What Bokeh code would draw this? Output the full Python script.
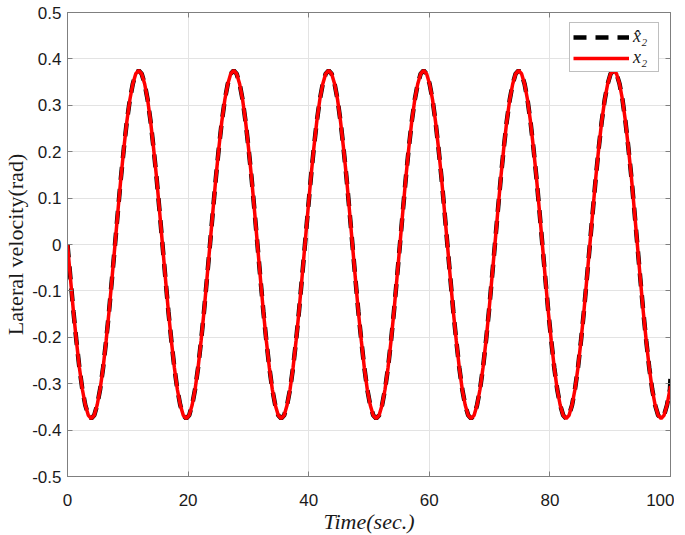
from bokeh.plotting import figure
from bokeh.models import LinearAxis, FixedTicker, Range1d
from bokeh.embed import file_html
from bokeh.resources import INLINE

# ---- data ----
# sample times (sec), shared by both series
t = [
    0, 0.49, 0.98, 1.48, 1.97, 2.46, 2.95, 3.45, 3.94, 4.43, 4.92, 5.41, 5.91, 6.40, 6.89, 7.38,
    7.88, 8.37, 8.86, 9.35, 9.84, 10.34, 10.83, 11.32, 11.81, 12.30, 12.80, 13.29, 13.78, 14.27, 14.77, 15.26,
    15.75, 16.24, 16.73, 17.23, 17.72, 18.21, 18.70, 19.20, 19.69, 20.18, 20.67, 21.16, 21.66, 22.15, 22.64, 23.13,
    23.63, 24.12, 24.61, 25.10, 25.59, 26.09, 26.58, 27.07, 27.56, 28.05, 28.55, 29.04, 29.53, 30.02, 30.52, 31.01,
    31.50, 31.99, 32.48, 32.98, 33.47, 33.96, 34.45, 34.95, 35.44, 35.93, 36.42, 36.91, 37.41, 37.90, 38.39, 38.88,
    39.38, 39.87, 40.36, 40.85, 41.34, 41.84, 42.33, 42.82, 43.31, 43.80, 44.30, 44.79, 45.28, 45.77, 46.27, 46.76,
    47.25, 47.74, 48.23, 48.73, 49.22, 49.71, 50.20, 50.70, 51.19, 51.68, 52.17, 52.66, 53.16, 53.65, 54.14, 54.63,
    55.13, 55.62, 56.11, 56.60, 57.09, 57.59, 58.08, 58.57, 59.06, 59.55, 60.05, 60.54, 61.03, 61.52, 62.02, 62.51,
    63.00, 63.49, 63.98, 64.48, 64.97, 65.46, 65.95, 66.45, 66.94, 67.43, 67.92, 68.41, 68.91, 69.40, 69.89, 70.38,
    70.88, 71.37, 71.86, 72.35, 72.84, 73.34, 73.83, 74.32, 74.81, 75.30, 75.80, 76.29, 76.78, 77.27, 77.77, 78.26,
    78.75, 79.24, 79.73, 80.23, 80.72, 81.21, 81.70, 82.20, 82.69, 83.18, 83.67, 84.16, 84.66, 85.15, 85.64, 86.13,
    86.63, 87.12, 87.61, 88.10, 88.59, 89.09, 89.58, 90.07, 90.56, 91.05, 91.55, 92.04, 92.53, 93.02, 93.52, 94.01,
    94.50, 94.99, 95.48, 95.98, 96.47, 96.96, 97.45, 97.95, 98.44, 98.93, 99.42, 99.91, 100.0,
]
# estimated state x2_hat (black dashed), rad
x2_hat = [
    0, -0.073, -0.144, -0.208, -0.265, -0.312, -0.346, -0.368, -0.375, -0.368, -0.346, -0.312, -0.265, -0.208, -0.144, -0.073,
    0, 0.073, 0.144, 0.208, 0.265, 0.312, 0.346, 0.368, 0.375, 0.368, 0.346, 0.312, 0.265, 0.208, 0.144, 0.073,
    0, -0.073, -0.144, -0.208, -0.265, -0.312, -0.346, -0.368, -0.375, -0.368, -0.346, -0.312, -0.265, -0.208, -0.144, -0.073,
    0, 0.073, 0.144, 0.208, 0.265, 0.312, 0.346, 0.368, 0.375, 0.368, 0.346, 0.312, 0.265, 0.208, 0.144, 0.073,
    0, -0.073, -0.144, -0.208, -0.265, -0.312, -0.346, -0.368, -0.375, -0.368, -0.346, -0.312, -0.265, -0.208, -0.144, -0.073,
    0, 0.073, 0.144, 0.208, 0.265, 0.312, 0.346, 0.368, 0.375, 0.368, 0.346, 0.312, 0.265, 0.208, 0.144, 0.073,
    0, -0.073, -0.144, -0.208, -0.265, -0.312, -0.346, -0.368, -0.375, -0.368, -0.346, -0.312, -0.265, -0.208, -0.144, -0.073,
    0, 0.073, 0.144, 0.208, 0.265, 0.312, 0.346, 0.368, 0.375, 0.368, 0.346, 0.312, 0.265, 0.208, 0.144, 0.073,
    0, -0.073, -0.144, -0.208, -0.265, -0.312, -0.346, -0.368, -0.375, -0.368, -0.346, -0.312, -0.265, -0.208, -0.144, -0.073,
    0, 0.073, 0.144, 0.208, 0.265, 0.312, 0.346, 0.368, 0.375, 0.368, 0.346, 0.312, 0.265, 0.208, 0.144, 0.073,
    0, -0.073, -0.144, -0.208, -0.265, -0.312, -0.346, -0.368, -0.375, -0.368, -0.346, -0.312, -0.265, -0.208, -0.144, -0.073,
    0, 0.073, 0.144, 0.208, 0.265, 0.312, 0.346, 0.368, 0.375, 0.368, 0.346, 0.312, 0.265, 0.208, 0.144, 0.073,
    0, -0.073, -0.144, -0.208, -0.265, -0.312, -0.346, -0.368, -0.375, -0.368, -0.346, -0.312, -0.287,
]
# true state x2 (red solid), rad
x2 = [
    0, -0.073, -0.144, -0.208, -0.265, -0.312, -0.346, -0.368, -0.375, -0.368, -0.346, -0.312, -0.265, -0.208, -0.144, -0.073,
    0, 0.073, 0.144, 0.208, 0.265, 0.312, 0.346, 0.368, 0.375, 0.368, 0.346, 0.312, 0.265, 0.208, 0.144, 0.073,
    0, -0.073, -0.144, -0.208, -0.265, -0.312, -0.346, -0.368, -0.375, -0.368, -0.346, -0.312, -0.265, -0.208, -0.144, -0.073,
    0, 0.073, 0.144, 0.208, 0.265, 0.312, 0.346, 0.368, 0.375, 0.368, 0.346, 0.312, 0.265, 0.208, 0.144, 0.073,
    0, -0.073, -0.144, -0.208, -0.265, -0.312, -0.346, -0.368, -0.375, -0.368, -0.346, -0.312, -0.265, -0.208, -0.144, -0.073,
    0, 0.073, 0.144, 0.208, 0.265, 0.312, 0.346, 0.368, 0.375, 0.368, 0.346, 0.312, 0.265, 0.208, 0.144, 0.073,
    0, -0.073, -0.144, -0.208, -0.265, -0.312, -0.346, -0.368, -0.375, -0.368, -0.346, -0.312, -0.265, -0.208, -0.144, -0.073,
    0, 0.073, 0.144, 0.208, 0.265, 0.312, 0.346, 0.368, 0.375, 0.368, 0.346, 0.312, 0.265, 0.208, 0.144, 0.073,
    0, -0.073, -0.144, -0.208, -0.265, -0.312, -0.346, -0.368, -0.375, -0.368, -0.346, -0.312, -0.265, -0.208, -0.144, -0.073,
    0, 0.073, 0.144, 0.208, 0.265, 0.312, 0.346, 0.368, 0.375, 0.368, 0.346, 0.312, 0.265, 0.208, 0.144, 0.073,
    0, -0.073, -0.144, -0.208, -0.265, -0.312, -0.346, -0.368, -0.375, -0.368, -0.346, -0.312, -0.265, -0.208, -0.144, -0.073,
    0, 0.073, 0.144, 0.208, 0.265, 0.312, 0.346, 0.368, 0.375, 0.368, 0.346, 0.312, 0.265, 0.208, 0.144, 0.073,
    0, -0.073, -0.144, -0.208, -0.265, -0.312, -0.346, -0.368, -0.375, -0.368, -0.346, -0.312, -0.305,
]

x_ticks = [0, 20, 40, 60, 80, 100]
y_ticks = [-0.5, -0.4, -0.3, -0.2, -0.1, 0, 0.1, 0.2, 0.3, 0.4, 0.5]
y_tick_labels = ["-0.5", "-0.4", "-0.3", "-0.2", "-0.1", "0", "0.1", "0.2", "0.3", "0.4", "0.5"]

x_label = "Time(sec.)"
y_label = "Lateral velocity(rad)"
label_hat = "x\u0302\u2082"
label_x2 = "x\u2082"

# ---- figure ----
AX = "#7f7f7f"
TXT = "#1a1a1a"

p = figure(
    frame_width=603, frame_height=464,
    x_range=Range1d(0, 100), y_range=Range1d(-0.5, 0.5),
    output_backend="svg", toolbar_location=None,
    min_border_left=56, min_border_right=4, min_border_top=12, min_border_bottom=56,
    background_fill_color="white", border_fill_color="white",
)
p.outline_line_color = AX
p.outline_line_width = 1

tick_font = "Liberation Sans"
for ax in p.xaxis:
    ax.ticker = FixedTicker(ticks=x_ticks)
    ax.major_label_text_font = tick_font
    ax.major_label_text_font_size = "17px"
    ax.major_label_text_color = TXT
    ax.major_label_standoff = 17
    ax.axis_label = x_label
    ax.axis_label_text_font = "Liberation Serif"
    ax.axis_label_text_font_style = "italic"
    ax.axis_label_text_font_size = "22px"
    ax.axis_label_text_color = TXT
    ax.axis_label_standoff = 0
for ax in p.yaxis:
    ax.ticker = FixedTicker(ticks=y_ticks)
    ax.major_label_overrides = {v: s for v, s in zip(y_ticks, y_tick_labels)}
    ax.major_label_text_font = tick_font
    ax.major_label_text_font_size = "17px"
    ax.major_label_text_color = TXT
    ax.major_label_standoff = 6
    ax.axis_label = y_label
    ax.axis_label_text_font = "Liberation Serif"
    ax.axis_label_text_font_style = "normal"
    ax.axis_label_text_font_size = "22px"
    ax.axis_label_text_color = TXT
    ax.axis_label_standoff = 1

for ax in list(p.xaxis) + list(p.yaxis):
    ax.axis_line_color = AX
    ax.major_tick_line_color = AX
    ax.major_tick_in = 5
    ax.major_tick_out = 0
    ax.minor_tick_line_color = None

right_ax = LinearAxis(ticker=FixedTicker(ticks=y_ticks))
top_ax = LinearAxis(ticker=FixedTicker(ticks=x_ticks))
for ax in (right_ax, top_ax):
    ax.major_label_text_font_size = "1px"
    ax.major_label_text_color = None
    ax.major_label_standoff = 0
    ax.axis_line_color = AX
    ax.major_tick_line_color = AX
    ax.major_tick_in = 5
    ax.major_tick_out = 0
    ax.minor_tick_line_color = None
p.add_layout(right_ax, "right")
p.add_layout(top_ax, "above")

p.xgrid.ticker = FixedTicker(ticks=x_ticks)
p.ygrid.ticker = FixedTicker(ticks=y_ticks)
p.grid.grid_line_color = "#e3e3e3"
p.grid.grid_line_width = 1

# ---- series ----
p.line(t, x2_hat, line_color="black", line_width=4.5, line_dash="13 9",
       legend_label=label_hat)
p.line(t, x2, line_color="#ff0000", line_width=3.5, legend_label=label_x2)

lg = p.legend[0]
lg.location = (502, 404)
lg.label_text_font = "Liberation Serif"
lg.label_text_font_style = "italic"
lg.label_text_font_size = "18px"
lg.label_text_color = TXT
lg.border_line_color = AX
lg.border_line_width = 1
lg.background_fill_color = "white"
lg.background_fill_alpha = 1
lg.padding = 3
lg.margin = 0
lg.spacing = 0
lg.glyph_width = 56
lg.glyph_height = 20
lg.label_height = 20
lg.label_width = 22
lg.label_standoff = 4

open("out.html", "w").write(file_html(p, INLINE))
